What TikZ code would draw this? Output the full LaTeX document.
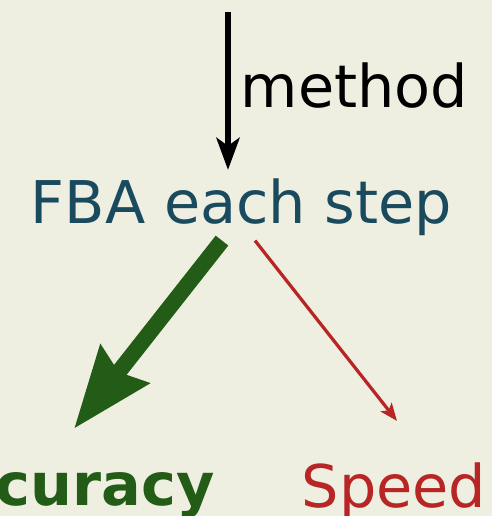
\documentclass[tikz,border=0pt]{standalone}
\usepackage{fontspec}
\setmainfont{DejaVu Sans}
\usepackage{xcolor}
\definecolor{bgcream}{HTML}{EFEFE1}
\definecolor{fbateal}{HTML}{1A4A5E}
\definecolor{accgreen}{HTML}{225C17}
\definecolor{speedred}{HTML}{B82525}
\usetikzlibrary{arrows.meta, positioning, calc}

\begin{document}
\begin{tikzpicture}[
  lbl/.style={font=\fontsize{33.5}{40}\selectfont, inner sep=0.1cm},
  inarr/.style={-{Stealth[length=0.64cm, width=0.46cm, inset=0.16cm]}, line width=0.12cm, black},
  accarr/.style={-{Stealth[length=1.62cm, width=1.2cm, inset=0.18cm]}, line width=0.32cm, accgreen},
  speedarr/.style={-{Stealth[length=0.35cm, width=0.28cm, inset=0.08cm]}, line width=0.065cm, speedred},
]
\fill[bgcream] (0,0) rectangle (9.84,10.32);
\useasboundingbox (0,0) rectangle (9.84,10.32);

% Method step
\coordinate (src) at (4.56, 10.08);
\node[lbl, text=fbateal, anchor=base] (fba) at (4.83, 5.86) {FBA each step};

% Outcomes
\node[lbl, text=accgreen, font=\fontsize{33.5}{40}\selectfont\bfseries, anchor=base] (acc) at (1.30, 0.22) {Accuracy};
\node[lbl, text=speedred, anchor=base] (speed) at (7.88, 0.16) {Speed};

\draw[inarr] (src) -- ([yshift=0.06cm]src |- fba.north)
  node[midway, right, lbl, xshift=0.1cm, yshift=0.1cm, text=black] (mlbl) {method};
\draw[accarr] ([xshift=-0.39cm]fba.south) -- ([shift={(0.18,0.56)}]acc.north);
\draw[speedarr] ([xshift=0.27cm]fba.south) -- ([shift={(0.06,0.74)}]speed.north);

\end{tikzpicture}
\end{document}
